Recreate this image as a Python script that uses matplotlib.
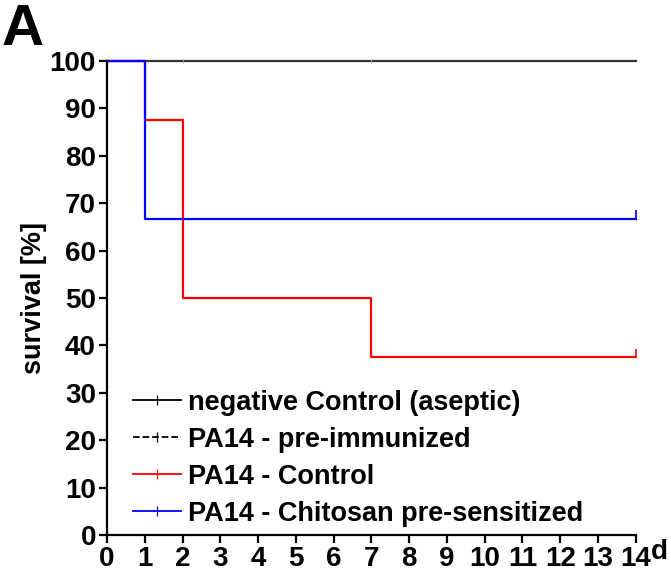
import matplotlib
matplotlib.use("Agg")
import matplotlib.pyplot as plt
from matplotlib.lines import Line2D

plt.rcParams['font.family'] = ['Liberation Sans', 'DejaVu Sans']
plt.rcParams['font.weight'] = 'bold'

# survival step data (day, percent)
neg_days = [0, 14]
neg_surv = [100, 100]
imm_days = [0, 14]
imm_surv = [100, 100]
ctrl_days = [0, 1, 2, 7, 14]
ctrl_surv = [100, 87.5, 50, 37.5, 37.5]
chit_days = [0, 1, 14]
chit_surv = [100, 66.67, 66.67]

neg_censor = [2, 7]
labels = ['negative Control (aseptic)', 'PA14 - pre-immunized',
          'PA14 - Control', 'PA14 - Chitosan pre-sensitized']
colors = ['black', 'black', '#ff0000', '#0000ff']
styles = ['-', '--', '-', '-']

fig = plt.figure(figsize=(6.71, 5.80), dpi=100)
ax = fig.add_axes([0.1595, 0.0776, 0.788, 0.8172])

ax.step(imm_days, imm_surv, where='post', color='black', ls='--', lw=1.4, clip_on=False)
ax.step(neg_days, neg_surv, where='post', color='#333333', lw=1.6, clip_on=False)
ax.plot(neg_censor, [100] * len(neg_censor), ls='none', marker='|', ms=3,
        mew=0.6, color='#aaaaaa', clip_on=False)
ax.step(ctrl_days, ctrl_surv, where='post', color='#ff0000', lw=1.6, clip_on=False)
ax.plot(ctrl_days[-1], ctrl_surv[-1] + 1, marker='|', ms=6, mew=1.2,
        color='#ff0000', clip_on=False)
ax.step(chit_days, chit_surv, where='post', color='#0000ff', lw=1.6, clip_on=False)
ax.plot(chit_days[-1], chit_surv[-1] + 1, marker='|', ms=6, mew=1.2,
        color='#0000ff', clip_on=False)

ax.set_xlim(0, 14)
ax.set_ylim(0, 100)
ax.set_xticks(range(0, 15))
ax.set_yticks(range(0, 101, 10))
ax.tick_params(direction='out', length=6, width=1.6, labelsize=20, pad=2)
for lab in ax.get_xticklabels() + ax.get_yticklabels():
    lab.set_fontweight('bold')
for s in ['top', 'right']:
    ax.spines[s].set_visible(False)
for s in ['left', 'bottom']:
    ax.spines[s].set_linewidth(1.6)

ax.set_ylabel('survival [%]', fontsize=19.5, fontweight='bold', labelpad=2)
fig.text(651 / 671, 1 - 552 / 580, 'd', fontsize=20, fontweight='bold',
         ha='left', va='center')
fig.text(0.003, 1 - 45 / 580, 'A', fontsize=42, fontweight='bold',
         ha='left', va='baseline')

handles = [Line2D([0], [0], color=c, ls=st, lw=1.3, marker='|', ms=7, mew=0.9)
           for c, st in zip(colors, styles)]
ax.legend(handles, labels, loc='lower left', bbox_to_anchor=(0.049, 0.017),
          frameon=False, prop={'weight': 'bold', 'size': 19.5},
          borderaxespad=0, borderpad=0,
          handlelength=1.78, handletextpad=0.26, labelspacing=0.41, numpoints=1)

fig.savefig('out.png', dpi=100)
